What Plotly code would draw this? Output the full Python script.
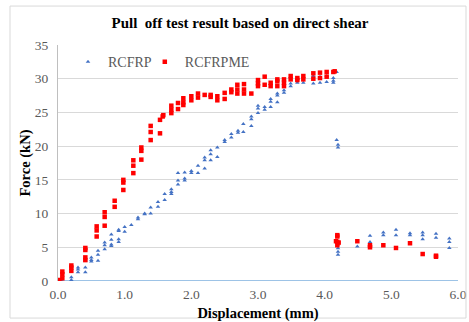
import plotly.graph_objects as go

# RCFRP (blue triangles)
rcfrp_x = [0.05, 0.05, 0.2, 0.2, 0.3, 0.3, 0.3, 0.41, 0.41, 0.41, 0.41,
           0.5, 0.5, 0.5, 0.6, 0.6, 0.6, 0.7, 0.7, 0.7, 0.8, 0.8, 0.8, 0.8,
           0.91, 0.91, 0.91, 0.91, 1.0, 1.0, 1.1, 1.2, 1.2, 1.3, 1.3,
           1.39, 1.39, 1.5, 1.5, 1.6, 1.6, 1.7, 1.7, 1.7, 1.8, 1.8, 1.8,
           1.9, 1.9, 1.9, 2.0, 2.0, 2.1, 2.1, 2.2, 2.2, 2.2, 2.29, 2.29, 2.29,
           2.39, 2.39, 2.5, 2.5, 2.6, 2.6, 2.7, 2.7, 2.78, 2.78,
           2.9, 2.9, 2.9, 3.0, 3.0, 3.0, 3.1, 3.1, 3.19, 3.19, 3.19,
           3.29, 3.29, 3.29, 3.39, 3.39, 3.49, 3.49, 3.59, 3.68,
           3.83, 3.83, 3.93, 3.93, 4.03, 4.03, 4.13, 4.13, 4.13, 4.18,
           4.18, 4.2, 4.2, 4.2, 4.2, 4.2, 4.2,
           4.49, 4.68, 4.68, 4.88, 4.88, 5.07, 5.07, 5.28, 5.28,
           5.47, 5.47, 5.47, 5.67, 5.67, 5.87, 5.87, 5.87]
rcfrp_y = [0.05, 0.25, 0.15, 0.55, 1.3, 1.7, 2.0, 1.3, 2.0, 3.0, 3.1,
           2.9, 3.1, 3.5, 3.0, 3.9, 4.5, 4.7, 5.3, 5.7, 5.2, 5.4, 6.1, 6.9,
           5.8, 6.2, 7.4, 7.6, 7.3, 8.0, 8.3, 9.15, 9.4, 9.9, 10.0,
           10.0, 10.9, 11.0, 11.7, 12.0, 12.9, 12.9, 13.2, 13.6, 14.3, 14.9, 16.0,
           14.9, 15.2, 16.1, 16.0, 16.3, 16.0, 17.1, 16.7, 17.9, 18.3, 17.9, 18.8, 19.4,
           18.4, 19.8, 20.6, 20.9, 21.3, 21.8, 22.0, 22.3, 22.1, 23.3,
           23.0, 24.0, 24.4, 24.9, 25.6, 26.0, 25.4, 25.8, 25.8, 26.6, 27.0,
           26.5, 27.5, 27.8, 27.9, 28.3, 28.9, 29.3, 29.4, 29.4,
           29.3, 30.4, 29.4, 30.3, 29.5, 30.4, 29.4, 29.7, 30.1, 31.0,
           20.9, 20.2, 19.8, 3.9, 4.35, 4.85, 5.4,
           5.1, 5.8, 6.7, 6.8, 7.2, 6.8, 7.6, 6.8, 7.1,
           6.2, 6.8, 7.2, 6.4, 7.0, 4.9, 5.8, 6.3]

# RCFRPME (red squares)
rcfrpme_x = [0.0, 0.02, 0.065, 0.065, 0.065, 0.2, 0.2, 0.2,
             0.41, 0.41, 0.41, 0.41, 0.58, 0.58, 0.58, 0.7, 0.7, 0.7,
             0.85, 0.85, 0.98, 0.98, 0.98, 1.13, 1.13, 1.13, 1.25, 1.25, 1.25,
             1.39, 1.39, 1.39, 1.53, 1.53, 1.57, 1.58, 1.7, 1.7, 1.7,
             1.8, 1.8, 1.88, 1.88, 1.88, 2.0, 2.0, 2.1, 2.1, 2.2, 2.29, 2.29,
             2.39, 2.39, 2.5, 2.5, 2.6, 2.6, 2.69, 2.69, 2.69, 2.79, 2.79, 2.79,
             2.9, 3.0, 3.0, 3.0, 3.1, 3.1, 3.19, 3.19, 3.29, 3.29, 3.29,
             3.39, 3.39, 3.39, 3.49, 3.49, 3.59, 3.59, 3.68, 3.68,
             3.83, 3.83, 3.93, 3.93, 4.03, 4.03, 4.13, 4.15,
             4.19, 4.19, 4.19, 4.19, 4.21, 4.17,
             4.49, 4.68, 4.68, 4.88, 5.07, 5.28, 5.47, 5.67, 5.67]
rcfrpme_y = [0.05, 0.15, 0.4, 1.0, 1.4, 1.5, 2.0, 2.3,
             3.1, 3.5, 4.6, 4.9, 6.6, 7.5, 8.1, 8.2, 9.5, 10.2,
             11.0, 11.9, 13.5, 14.6, 15.0, 16.0, 17.1, 17.9, 18.0, 19.3, 19.8,
             20.9, 22.1, 23.0, 21.9, 23.9, 24.4, 24.6, 24.9, 25.4, 26.0,
             25.5, 26.4, 26.1, 26.5, 27.1, 26.8, 27.4, 27.2, 27.8, 27.6, 27.3, 27.6,
             26.8, 27.4, 27.0, 27.9, 28.0, 28.4, 27.8, 28.4, 29.1, 27.8, 28.4, 29.2,
             27.8, 28.9, 29.3, 29.8, 29.1, 30.3, 28.9, 29.4, 28.9, 29.6, 29.9,
             28.9, 29.4, 29.9, 29.9, 30.4, 29.8, 30.1, 29.9, 30.4,
             30.0, 30.8, 30.1, 30.9, 30.3, 31.0, 31.0, 31.1,
             5.3, 5.8, 6.6, 6.8, 5.7, 5.9,
             5.9, 5.0, 5.3, 5.3, 4.9, 5.6, 4.0, 3.6, 3.75]

x_ticks = [0, 1, 2, 3, 4, 5, 6]
x_tick_labels = ["0.0", "1.0", "2.0", "3.0", "4.0", "5.0", "6.0"]
y_ticks = [0, 5, 10, 15, 20, 25, 30, 35]

FONT = "Liberation Serif, Times New Roman, serif"

fig = go.Figure()
fig.add_trace(go.Scatter(
    x=rcfrp_x, y=rcfrp_y, mode="markers", name="RCFRP", legend="legend",
    marker=dict(symbol="triangle-up", size=4, color="#4472C4"),
))
fig.add_trace(go.Scatter(
    x=rcfrpme_x, y=rcfrpme_y, mode="markers", name="RCFRPME", legend="legend2",
    marker=dict(symbol="square", size=4.5, color="#FF0000"),
))

legend_common = dict(orientation="h", yanchor="top", xanchor="left",
                     bgcolor="rgba(0,0,0,0)",
                     font=dict(family=FONT, size=14, color="#595959"))

fig.update_layout(
    width=469, height=322,
    margin=dict(l=58, r=11, t=45, b=41, autoexpand=False),
    paper_bgcolor="white", plot_bgcolor="white",
    font=dict(family=FONT, size=13, color="#595959"),
    title=dict(text="<b>Pull  off test result based on direct shear</b>",
               x=0.455, xanchor="center", xref="paper",
               y=0.928, yref="container", yanchor="middle",
               font=dict(family=FONT, size=15, color="black")),
    showlegend=True,
    legend=dict(x=0.025, y=0.995, **legend_common),
    legend2=dict(x=0.217, y=0.995, **legend_common),
    xaxis=dict(range=[0, 6], tickvals=x_ticks, ticktext=x_tick_labels,
               showgrid=False, zeroline=False, showline=False, ticks="",
               automargin=False, ticklabelstandoff=3,
               tickfont=dict(family=FONT, size=13.5, color="#595959"),
               title=dict(text="<b>Displacement (mm)</b>", standoff=8,
                          font=dict(family=FONT, size=14.5, color="black"))),
    yaxis=dict(range=[0, 35], tickvals=y_ticks, showgrid=True, gridcolor="#D9D9D9",
               gridwidth=1, zeroline=False, showline=True, linecolor="#BFBFBF",
               ticks="", ticklabelstandoff=6, automargin=False,
               tickfont=dict(family=FONT, size=13.5, color="#595959"),
               title=dict(text="<b>Force (kN)</b>", standoff=0,
                          font=dict(family=FONT, size=14.5, color="black"))),
    shapes=[
        dict(type="line", xref="paper", yref="y", x0=0, x1=1, y0=0, y1=0,
             line=dict(color="#9DC3E6", width=2), layer="below"),
        dict(type="rect", xref="paper", yref="paper", x0=-0.12, x1=1.02,
             y0=-0.157, y1=1.165, line=dict(color="#D9D9D9", width=1)),
    ],
)

fig.write_html("out.html", config={"displayModeBar": False},
               post_script="document.body.style.margin='0';document.body.style.padding='0';")
